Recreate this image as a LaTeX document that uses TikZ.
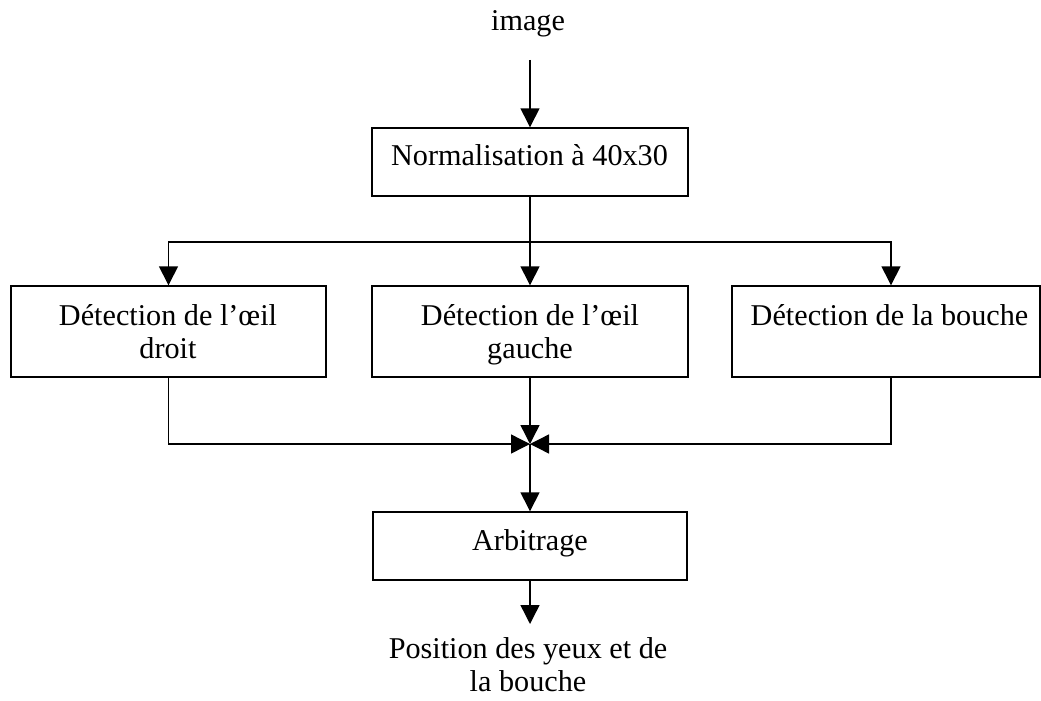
\documentclass[tikz,border=0pt]{standalone}
\usepackage{fontspec}
\setmainfont{Liberation Serif}
\usetikzlibrary{arrows.meta}
\begin{document}
\begin{tikzpicture}[x=1pt,y=-1pt,
  line width=1.4pt,
  box/.style={draw, rectangle, inner sep=0pt},
  lbl/.style={inner sep=0pt, anchor=base, font=\fontsize{30.2}{33.5}\selectfont},
  arr/.style={-{Triangle[width=19pt,length=19pt]}},
]
\useasboundingbox (0,0) rectangle (1041,701);

% input
\node[lbl] (img) at (528,31) {image};
\coordinate (imgout) at (530,60);

% normalisation step
\node[box, minimum width=316pt, minimum height=68pt] (norm) at (530,162) {};
\node[lbl] (normtxt) at (529.5,165) {Normalisation à 40x30};
\draw[arr] (imgout) -- (norm.north);

% three detectors
\node[box, minimum width=315pt, minimum height=91pt] (dl) at (168.5,331.5) {};
\node[box, minimum width=316pt, minimum height=91pt] (dm) at (530,331.5) {};
\node[box, minimum width=308pt, minimum height=91pt] (dr) at (886,331.5) {};
\node[lbl] (dltxt) at (168,325) {\begin{tabular}[t]{@{}c@{}}Détection de l’œil\\droit\end{tabular}};
\node[lbl] (dmtxt) at (530,325) {\begin{tabular}[t]{@{}c@{}}Détection de l’œil\\gauche\end{tabular}};
\node[lbl] (drtxt) at (889.5,325) {Détection de la bouche};

\coordinate (split) at (530,242);
\draw[arr] (norm.south) -- (dm.north);
\draw[arr] (split) -| (dl.north);
\draw[arr] (split) -| ([xshift=5pt]dr.north);

% arbitration
\coordinate (merge) at (530,444);
\node[box, minimum width=314pt, minimum height=68pt] (arb) at (530,546) {};
\node[lbl] (arbtxt) at (530,550) {Arbitrage};
\draw[arr] (dl.south) |- (merge);
\draw[arr] ([xshift=5pt]dr.south) |- (merge);
\draw[arr] (dm.south) -- (merge);
\draw[arr] (merge) -- (arb.north);

% output
\coordinate (res) at (530,624);
\draw[arr] (arb.south) -- (res);
\node[lbl] (restxt) at (528,658) {\begin{tabular}[t]{@{}c@{}}Position des yeux et de\\la bouche\end{tabular}};
\end{tikzpicture}
\end{document}
